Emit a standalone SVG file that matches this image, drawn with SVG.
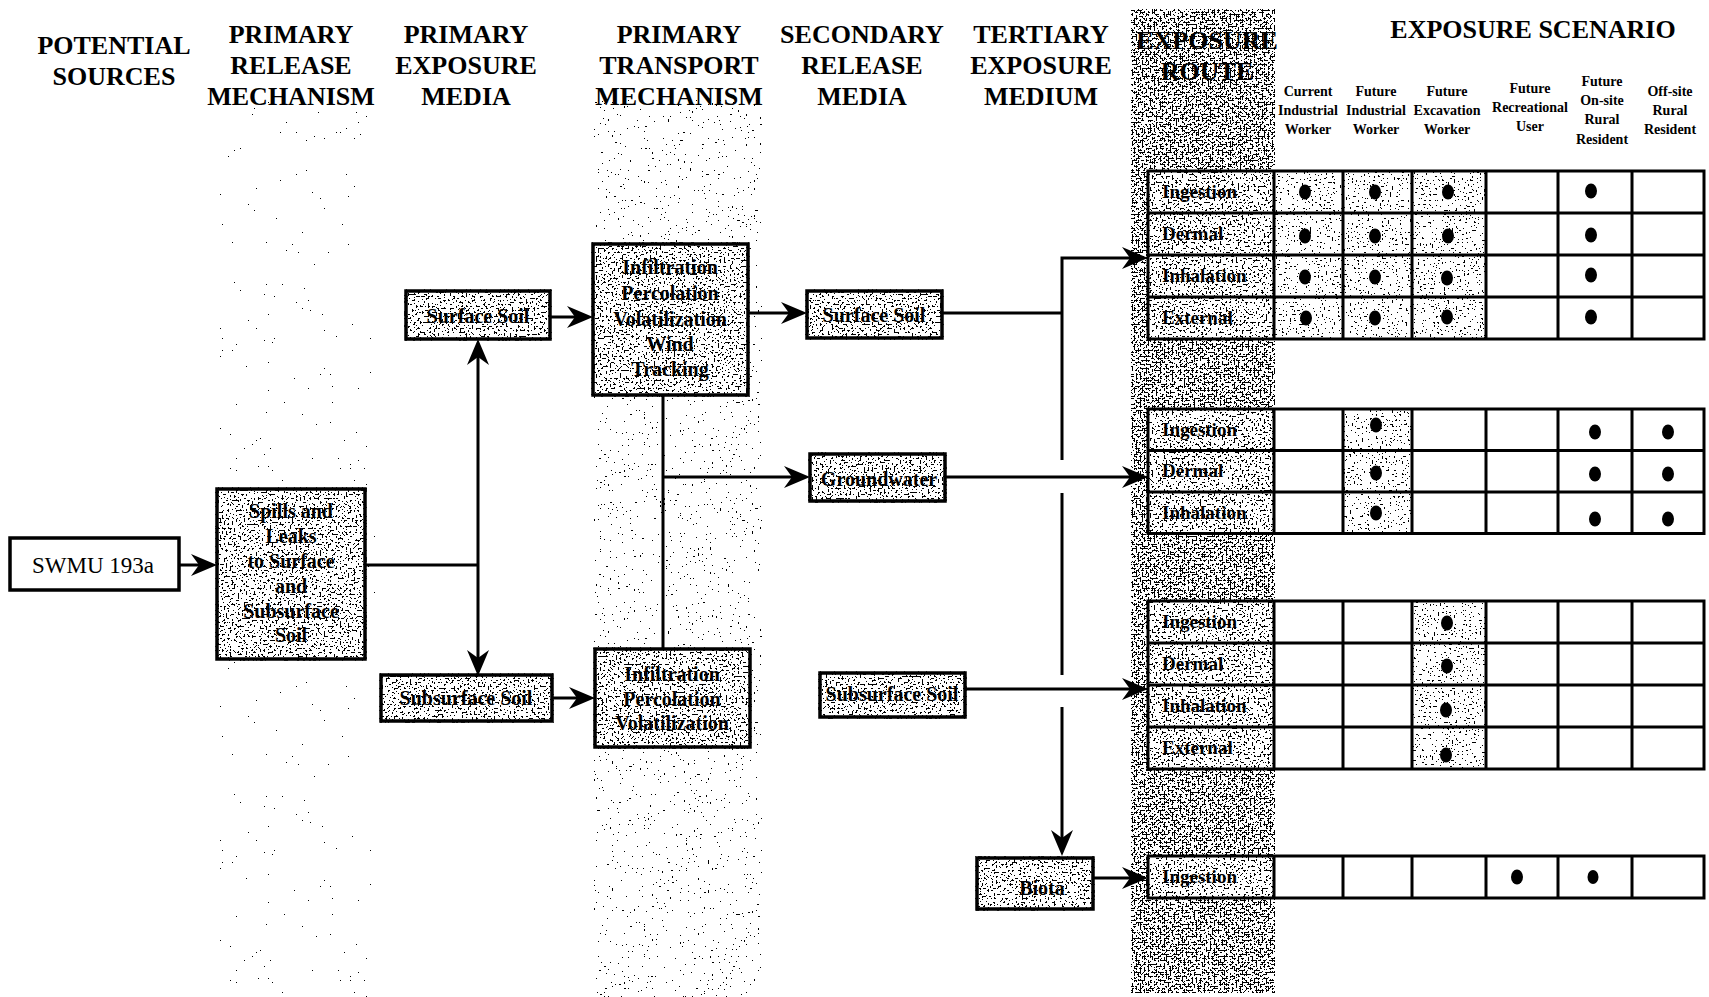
<svg xmlns="http://www.w3.org/2000/svg" width="1709" height="997" viewBox="0 0 1709 997">
  <style>
    .hdr { font: bold 26px "Liberation Serif", "Times New Roman", serif; text-anchor: middle; fill: #000; }
    .sub { font: bold 14px "Liberation Serif", "Times New Roman", serif; text-anchor: middle; fill: #000; }
    .lbl { font: bold 20px "Liberation Serif", "Times New Roman", serif; text-anchor: middle; fill: #000; }
    .src { font: 23px "Liberation Serif", "Times New Roman", serif; text-anchor: middle; fill: #000; }
    .rt { font: bold 19px "Liberation Serif", "Times New Roman", serif; text-anchor: start; fill: #000; }
    .box { fill: #fff; stroke: #000; stroke-width: 3.5; }
    .link { fill: none; stroke: #000; stroke-width: 3; }
    .grid { fill: none; stroke: #000; stroke-width: 3; stroke-linecap: square; }
    .shade { fill: #fff; }
    .dot { fill: #000; }
  </style>
  <defs>
    <!-- halftone speckle fills: thresholded noise clipped to the shape -->
    <filter id="grain-route" color-interpolation-filters="sRGB">
      <feTurbulence type="fractalNoise" baseFrequency="0.5" numOctaves="2" seed="11" result="noise"/>
      <feColorMatrix in="noise" type="matrix" values="0 0 0 0 0  0 0 0 0 0  0 0 0 0 0  1 0 0 0 -0.02" result="a"/>
      <feComponentTransfer in="a" result="dots"><feFuncA type="discrete" tableValues="0 1"/></feComponentTransfer>
      <feComposite in="dots" in2="SourceAlpha" operator="in" result="clip"/>
      <feMerge><feMergeNode in="SourceGraphic"/><feMergeNode in="clip"/></feMerge>
    </filter>
    <filter id="grain-box" color-interpolation-filters="sRGB">
      <feTurbulence type="fractalNoise" baseFrequency="0.5" numOctaves="2" seed="5" result="noise"/>
      <feColorMatrix in="noise" type="matrix" values="0 0 0 0 0  0 0 0 0 0  0 0 0 0 0  1 0 0 0 -0.11" result="a"/>
      <feComponentTransfer in="a" result="dots"><feFuncA type="discrete" tableValues="0 1"/></feComponentTransfer>
      <feComposite in="dots" in2="SourceAlpha" operator="in" result="clip"/>
      <feMerge><feMergeNode in="SourceGraphic"/><feMergeNode in="clip"/></feMerge>
    </filter>
    <filter id="grain-cell" color-interpolation-filters="sRGB">
      <feTurbulence type="fractalNoise" baseFrequency="0.5" numOctaves="2" seed="23" result="noise"/>
      <feColorMatrix in="noise" type="matrix" values="0 0 0 0 0  0 0 0 0 0  0 0 0 0 0  1 0 0 0 -0.19" result="a"/>
      <feComponentTransfer in="a" result="dots"><feFuncA type="discrete" tableValues="0 1"/></feComponentTransfer>
      <feComposite in="dots" in2="SourceAlpha" operator="in" result="clip"/>
      <feMerge><feMergeNode in="SourceGraphic"/><feMergeNode in="clip"/></feMerge>
    </filter>
    <filter id="grain-band" color-interpolation-filters="sRGB">
      <feTurbulence type="fractalNoise" baseFrequency="0.5" numOctaves="2" seed="31" result="noise"/>
      <feColorMatrix in="noise" type="matrix" values="0 0 0 0 0  0 0 0 0 0  0 0 0 0 0  1 0 0 0 -0.23" result="a"/>
      <feComponentTransfer in="a" result="dots"><feFuncA type="discrete" tableValues="0 1"/></feComponentTransfer>
      <feComposite in="dots" in2="SourceAlpha" operator="in" result="clip"/>
      <feMerge><feMergeNode in="SourceGraphic"/><feMergeNode in="clip"/></feMerge>
    </filter>
    <filter id="grain-faint" color-interpolation-filters="sRGB">
      <feTurbulence type="fractalNoise" baseFrequency="0.5" numOctaves="2" seed="47" result="noise"/>
      <feColorMatrix in="noise" type="matrix" values="0 0 0 0 0  0 0 0 0 0  0 0 0 0 0  1 0 0 0 -0.29" result="a"/>
      <feComponentTransfer in="a" result="dots"><feFuncA type="discrete" tableValues="0 1"/></feComponentTransfer>
      <feComposite in="dots" in2="SourceAlpha" operator="in" result="clip"/>
      <feMerge><feMergeNode in="SourceGraphic"/><feMergeNode in="clip"/></feMerge>
    </filter>
    <marker id="arrow" markerUnits="userSpaceOnUse" viewBox="0 0 26 22" markerWidth="26" markerHeight="22" refX="14" refY="11" orient="auto-start-reverse">
      <path d="M0,0 L26,11 L0,22 L8,11 Z" fill="#000"/>
    </marker>
  </defs>

  <rect width="1709" height="997" fill="#fff"/>

  <!-- shaded column bands -->
  <g id="bands">
    <rect class="shade" x="218" y="100" width="158" height="897" filter="url(#grain-faint)"/>
    <rect class="shade" x="594" y="100" width="168" height="897" filter="url(#grain-band)"/>
    <rect class="shade" x="1131" y="9" width="144" height="984" filter="url(#grain-route)"/>
  </g>

  <!-- column headings -->
  <g id="headings">
    <text class="hdr" x="114" y="54">POTENTIAL</text>
    <text class="hdr" x="114" y="85">SOURCES</text>
    <text class="hdr" x="291" y="43">PRIMARY</text>
    <text class="hdr" x="291" y="74">RELEASE</text>
    <text class="hdr" x="291" y="105">MECHANISM</text>
    <text class="hdr" x="466" y="43">PRIMARY</text>
    <text class="hdr" x="466" y="74">EXPOSURE</text>
    <text class="hdr" x="466" y="105">MEDIA</text>
    <text class="hdr" x="679" y="43">PRIMARY</text>
    <text class="hdr" x="679" y="74">TRANSPORT</text>
    <text class="hdr" x="679" y="105">MECHANISM</text>
    <text class="hdr" x="862" y="43">SECONDARY</text>
    <text class="hdr" x="862" y="74">RELEASE</text>
    <text class="hdr" x="862" y="105">MEDIA</text>
    <text class="hdr" x="1041" y="43">TERTIARY</text>
    <text class="hdr" x="1041" y="74">EXPOSURE</text>
    <text class="hdr" x="1041" y="105">MEDIUM</text>
    <text class="hdr" x="1207" y="49">EXPOSURE</text>
    <text class="hdr" x="1207" y="80">ROUTE</text>
    <text class="hdr" x="1533" y="38">EXPOSURE SCENARIO</text>
  </g>

  <!-- receptor headings -->
  <g id="receptors">
    <text class="sub" x="1308" y="96">Current</text>
    <text class="sub" x="1308" y="115">Industrial</text>
    <text class="sub" x="1308" y="134">Worker</text>
    <text class="sub" x="1376" y="96">Future</text>
    <text class="sub" x="1376" y="115">Industrial</text>
    <text class="sub" x="1376" y="134">Worker</text>
    <text class="sub" x="1447" y="96">Future</text>
    <text class="sub" x="1447" y="115">Excavation</text>
    <text class="sub" x="1447" y="134">Worker</text>
    <text class="sub" x="1530" y="93">Future</text>
    <text class="sub" x="1530" y="112">Recreational</text>
    <text class="sub" x="1530" y="131">User</text>
    <text class="sub" x="1602" y="86">Future</text>
    <text class="sub" x="1602" y="105">On-site</text>
    <text class="sub" x="1602" y="124">Rural</text>
    <text class="sub" x="1602" y="144">Resident</text>
    <text class="sub" x="1670" y="96">Off-site</text>
    <text class="sub" x="1670" y="115">Rural</text>
    <text class="sub" x="1670" y="134">Resident</text>
  </g>

  <!-- nodes -->
  <g id="node-swmu">
    <rect class="box" x="10" y="538" width="169" height="52"/>
    <text class="src" x="93" y="573">SWMU 193a</text>
  </g>
  <g id="node-spills">
    <rect class="box" x="217" y="489" width="148" height="170" filter="url(#grain-box)"/>
    <text class="lbl" x="291" y="518">Spills and</text>
    <text class="lbl" x="291" y="543">Leaks</text>
    <text class="lbl" x="291" y="568">to Surface</text>
    <text class="lbl" x="291" y="593">and</text>
    <text class="lbl" x="291" y="618">Subsurface</text>
    <text class="lbl" x="291" y="642">Soil</text>
  </g>
  <g id="node-surface-soil-primary">
    <rect class="box" x="406" y="291" width="144" height="48" filter="url(#grain-box)"/>
    <text class="lbl" x="478" y="323">Surface Soil</text>
  </g>
  <g id="node-subsurface-soil-primary">
    <rect class="box" x="381" y="675" width="171" height="46" filter="url(#grain-box)"/>
    <text class="lbl" x="466" y="705">Subsurface Soil</text>
  </g>
  <g id="node-transport-surface">
    <rect class="box" x="593" y="244" width="155" height="151" filter="url(#grain-box)"/>
    <text class="lbl" x="670" y="274">Infiltration</text>
    <text class="lbl" x="670" y="300">Percolation</text>
    <text class="lbl" x="670" y="326">Volatilization</text>
    <text class="lbl" x="670" y="351">Wind</text>
    <text class="lbl" x="670" y="376">Tracking</text>
  </g>
  <g id="node-transport-subsurface">
    <rect class="box" x="595" y="649" width="155" height="98" filter="url(#grain-box)"/>
    <text class="lbl" x="672" y="681">Infiltration</text>
    <text class="lbl" x="672" y="706">Percolation</text>
    <text class="lbl" x="672" y="730">Volatilization</text>
  </g>
  <g id="node-surface-soil-secondary">
    <rect class="box" x="807" y="291" width="135" height="47" filter="url(#grain-box)"/>
    <text class="lbl" x="874" y="322">Surface Soil</text>
  </g>
  <g id="node-groundwater">
    <rect class="box" x="810" y="454" width="135" height="47" filter="url(#grain-box)"/>
    <text class="lbl" x="879" y="486">Groundwater</text>
  </g>
  <g id="node-subsurface-soil-secondary">
    <rect class="box" x="820" y="673" width="145" height="44" filter="url(#grain-box)"/>
    <text class="lbl" x="892" y="701">Subsurface Soil</text>
  </g>
  <g id="node-biota">
    <rect class="box" x="977" y="858" width="116" height="51" filter="url(#grain-box)"/>
    <text class="lbl" x="1042" y="895">Biota</text>
  </g>

  <!-- exposure route / receptor matrix -->
  <g id="route-surface-soil">
    <rect class="shade" x="1148" y="171" width="126" height="168" filter="url(#grain-box)"/>
    <rect class="shade" x="1274" y="171" width="212" height="168" filter="url(#grain-cell)"/>
    <path class="grid" d="M1148,171H1704M1148,213H1704M1148,255H1704M1148,297H1704M1148,339H1704M1148,171V339M1274,171V339M1343,171V339M1412,171V339M1486,171V339M1558,171V339M1632,171V339M1704,171V339"/>
    <text class="rt" x="1162" y="198">Ingestion</text>
    <text class="rt" x="1162" y="240">Dermal</text>
    <text class="rt" x="1162" y="282">Inhalation</text>
    <text class="rt" x="1162" y="324">External</text>
    <ellipse class="dot" cx="1305" cy="192" rx="6" ry="7.5"/>
    <ellipse class="dot" cx="1375" cy="192" rx="6" ry="7.5"/>
    <ellipse class="dot" cx="1448" cy="192" rx="6" ry="7.5"/>
    <ellipse class="dot" cx="1591" cy="191" rx="6" ry="7.5"/>
    <ellipse class="dot" cx="1305" cy="236" rx="6" ry="7.5"/>
    <ellipse class="dot" cx="1375" cy="236" rx="6" ry="7.5"/>
    <ellipse class="dot" cx="1448" cy="236" rx="6" ry="7.5"/>
    <ellipse class="dot" cx="1591" cy="235" rx="6" ry="7.5"/>
    <ellipse class="dot" cx="1305" cy="277" rx="6" ry="7.5"/>
    <ellipse class="dot" cx="1375" cy="277" rx="6" ry="7.5"/>
    <ellipse class="dot" cx="1447" cy="278" rx="6" ry="7.5"/>
    <ellipse class="dot" cx="1591" cy="275" rx="6" ry="7.5"/>
    <ellipse class="dot" cx="1306" cy="318" rx="6" ry="7.5"/>
    <ellipse class="dot" cx="1375" cy="318" rx="6" ry="7.5"/>
    <ellipse class="dot" cx="1447" cy="317" rx="6" ry="7.5"/>
    <ellipse class="dot" cx="1591" cy="317" rx="6" ry="7.5"/>
  </g>
  <g id="route-groundwater">
    <rect class="shade" x="1148" y="409" width="126" height="124.5" filter="url(#grain-box)"/>
    <rect class="shade" x="1343" y="409" width="69" height="124.5" filter="url(#grain-cell)"/>
    <path class="grid" d="M1148,409H1704M1148,450.5H1704M1148,492H1704M1148,533.5H1704M1148,409V533.5M1274,409V533.5M1343,409V533.5M1412,409V533.5M1486,409V533.5M1558,409V533.5M1632,409V533.5M1704,409V533.5"/>
    <text class="rt" x="1162" y="436">Ingestion</text>
    <text class="rt" x="1162" y="477">Dermal</text>
    <text class="rt" x="1162" y="519">Inhalation</text>
    <ellipse class="dot" cx="1376" cy="425" rx="6" ry="7.5"/>
    <ellipse class="dot" cx="1595" cy="432" rx="6" ry="7.5"/>
    <ellipse class="dot" cx="1668" cy="432" rx="6" ry="7.5"/>
    <ellipse class="dot" cx="1376" cy="473" rx="6" ry="7.5"/>
    <ellipse class="dot" cx="1595" cy="474" rx="6" ry="7.5"/>
    <ellipse class="dot" cx="1668" cy="474" rx="6" ry="7.5"/>
    <ellipse class="dot" cx="1376" cy="513" rx="6" ry="7.5"/>
    <ellipse class="dot" cx="1595" cy="519" rx="6" ry="7.5"/>
    <ellipse class="dot" cx="1668" cy="519" rx="6" ry="7.5"/>
  </g>
  <g id="route-subsurface-soil">
    <rect class="shade" x="1148" y="601" width="126" height="168" filter="url(#grain-box)"/>
    <rect class="shade" x="1412" y="601" width="74" height="168" filter="url(#grain-cell)"/>
    <path class="grid" d="M1148,601H1704M1148,643H1704M1148,685H1704M1148,727H1704M1148,769H1704M1148,601V769M1274,601V769M1343,601V769M1412,601V769M1486,601V769M1558,601V769M1632,601V769M1704,601V769"/>
    <text class="rt" x="1162" y="628">Ingestion</text>
    <text class="rt" x="1162" y="670">Dermal</text>
    <text class="rt" x="1162" y="712">Inhalation</text>
    <text class="rt" x="1162" y="754">External</text>
    <ellipse class="dot" cx="1447" cy="623" rx="6" ry="7.5"/>
    <ellipse class="dot" cx="1447" cy="666" rx="6" ry="7.5"/>
    <ellipse class="dot" cx="1446" cy="710" rx="6" ry="7.5"/>
    <ellipse class="dot" cx="1446" cy="755" rx="6" ry="7.5"/>
  </g>
  <g id="route-biota">
    <rect class="shade" x="1148" y="856" width="126" height="42" filter="url(#grain-box)"/>
    <path class="grid" d="M1148,856H1704M1148,898H1704M1148,856V898M1274,856V898M1343,856V898M1412,856V898M1486,856V898M1558,856V898M1632,856V898M1704,856V898"/>
    <text class="rt" x="1162" y="883">Ingestion</text>
    <ellipse class="dot" cx="1517" cy="877" rx="6" ry="7.5"/>
    <ellipse class="dot" cx="1593" cy="877" rx="5.5" ry="7"/>
  </g>

  <!-- connectors -->
  <g id="connectors">
    <line class="link" x1="179" y1="565" x2="205" y2="565" marker-end="url(#arrow)"/>
    <line class="link" x1="365" y1="565" x2="478" y2="565"/>
    <line class="link" x1="478" y1="351" x2="478" y2="664" marker-start="url(#arrow)" marker-end="url(#arrow)"/>
    <line class="link" x1="550" y1="317" x2="581" y2="317" marker-end="url(#arrow)"/>
    <line class="link" x1="552" y1="698" x2="583" y2="698" marker-end="url(#arrow)"/>
    <line class="link" x1="748" y1="313" x2="795" y2="313" marker-end="url(#arrow)"/>
    <line class="link" x1="663" y1="395" x2="663" y2="649"/>
    <line class="link" x1="663" y1="477" x2="798" y2="477" marker-end="url(#arrow)"/>
    <line class="link" x1="942" y1="313" x2="1062" y2="313"/>
    <path class="link" d="M1062,460V258H1136" marker-end="url(#arrow)"/>
    <line class="link" x1="1062" y1="493" x2="1062" y2="675"/>
    <line class="link" x1="1062" y1="707" x2="1062" y2="844" marker-end="url(#arrow)"/>
    <line class="link" x1="945" y1="477" x2="1136" y2="477" marker-end="url(#arrow)"/>
    <line class="link" x1="965" y1="689" x2="1136" y2="689" marker-end="url(#arrow)"/>
    <line class="link" x1="1093" y1="878" x2="1136" y2="878" marker-end="url(#arrow)"/>
  </g>
</svg>
